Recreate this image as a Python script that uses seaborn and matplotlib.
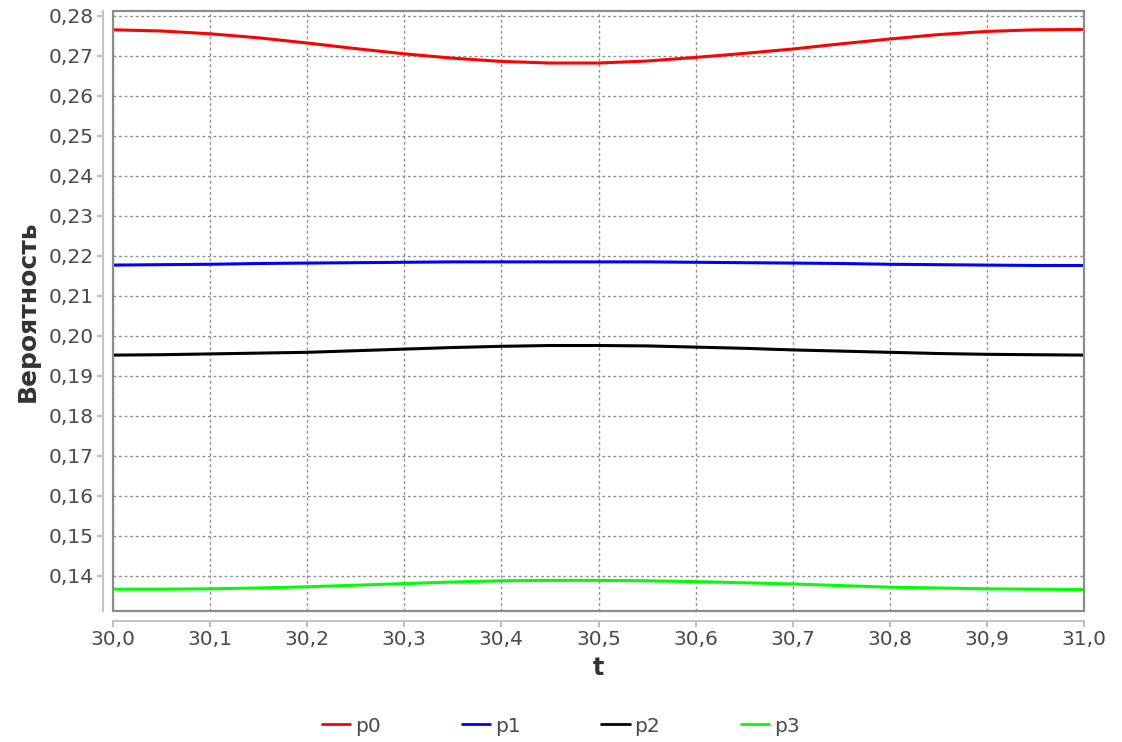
import numpy as np
import pandas as pd
import matplotlib
matplotlib.use("Agg")
import matplotlib.pyplot as plt
from matplotlib.patches import Rectangle
from matplotlib.ticker import FuncFormatter, MultipleLocator
import seaborn as sns

# ── Data ──────────────────────────────────────────────────
t = [30.0, 30.05, 30.1, 30.15, 30.2, 30.25, 30.3, 30.35, 30.4, 30.45, 30.5,
     30.55, 30.6, 30.65, 30.7, 30.75, 30.8, 30.85, 30.9, 30.95, 31.0]
p0 = [0.2765, 0.2762, 0.2755, 0.2745, 0.2732, 0.2718, 0.2705, 0.2694, 0.2686, 0.2682, 0.2682,
      0.2687, 0.2696, 0.2706, 0.2717, 0.2730, 0.2742, 0.2753, 0.2761, 0.2765, 0.2766]
p1 = [0.2177, 0.2178, 0.2179, 0.2181, 0.2182, 0.2183, 0.2184, 0.2185, 0.2185, 0.2185, 0.2185,
      0.2185, 0.2184, 0.2183, 0.2182, 0.2181, 0.2179, 0.2178, 0.2177, 0.2176, 0.2176]
p2 = [0.1952, 0.1953, 0.1955, 0.1957, 0.1959, 0.1963, 0.1967, 0.1971, 0.1974, 0.1976, 0.1976,
      0.1975, 0.1972, 0.1969, 0.1965, 0.1962, 0.1959, 0.1956, 0.1954, 0.1953, 0.1952]
p3 = [0.1367, 0.1367, 0.1368, 0.1370, 0.1373, 0.1377, 0.1381, 0.1385, 0.1388, 0.1389, 0.1389,
      0.1388, 0.1386, 0.1383, 0.1380, 0.1376, 0.1372, 0.1370, 0.1368, 0.1367, 0.1366]
series = ["p0", "p1", "p2", "p3"]
palette = {"p0": "#ff0000", "p1": "#0000ff", "p2": "#000000", "p3": "#00ff00"}

df = pd.DataFrame({"t": t, "p0": p0, "p1": p1, "p2": p2, "p3": p3})
long = df.melt(id_vars="t", value_vars=series, var_name="series", value_name="p")

# ── Styling ────────────────────────────────────────────────
sns.set_theme(style="white")
plt.rcParams["font.family"] = ["DejaVu Sans"]

fig = plt.figure(figsize=(11.22, 7.42), dpi=100)
ax = fig.add_axes([113 / 1122, 1 - 611 / 742, (1084 - 113) / 1122, (611 - 11) / 742])

sns.lineplot(data=long, x="t", y="p", hue="series", palette=palette,
             hue_order=series, linewidth=2.2, ax=ax, legend=False)

ax.set_xlim(30.0, 31.0)
ax.set_ylim(0.13125, 0.2812)
ax.xaxis.set_major_locator(MultipleLocator(0.1))
ax.yaxis.set_major_locator(MultipleLocator(0.01))
ax.xaxis.set_major_formatter(FuncFormatter(lambda v, _: f"{v:.1f}".replace(".", ",")))
ax.yaxis.set_major_formatter(FuncFormatter(lambda v, _: f"{v:.2f}".replace(".", ",")))

ax.grid(True, linestyle=(0, (2, 2)), color="#8f8f8f", linewidth=1.0)
ax.set_axisbelow(True)

# axis lines offset from the plot outline
for side in ["top", "right"]:
    ax.spines[side].set_visible(False)
for side in ["left", "bottom"]:
    ax.spines[side].set_position(("outward", 7))
    ax.spines[side].set_color("#c4c4c4")
    ax.spines[side].set_linewidth(1.5)
ax.add_patch(Rectangle((0, 0), 1, 1, transform=ax.transAxes, fill=False,
                       edgecolor="#8c8c8c", linewidth=1.6, clip_on=False, zorder=5))

ax.tick_params(axis="both", which="major", labelsize=14.5, labelcolor="#4a4a4a",
               color="#b0b0b0", length=4, width=1.2, direction="out",
               left=True, bottom=True, pad=3)

ax.set_xlabel("t", fontsize=17, fontweight="bold", color="#333333", labelpad=5)
ax.set_ylabel("Вероятность", fontsize=18, fontweight="bold", color="#333333", labelpad=6)

handles = [plt.Line2D([], [], color=palette[s], linewidth=2) for s in series]
fig.legend(handles, series, loc="center", bbox_to_anchor=(0.5, 1 - 726 / 742),
           ncol=4, frameon=False, fontsize=14.5, handlelength=1.4,
           handletextpad=0.25, columnspacing=4.0, labelcolor="#4a4a4a")

plt.savefig("out.png", dpi=100, facecolor="white")
